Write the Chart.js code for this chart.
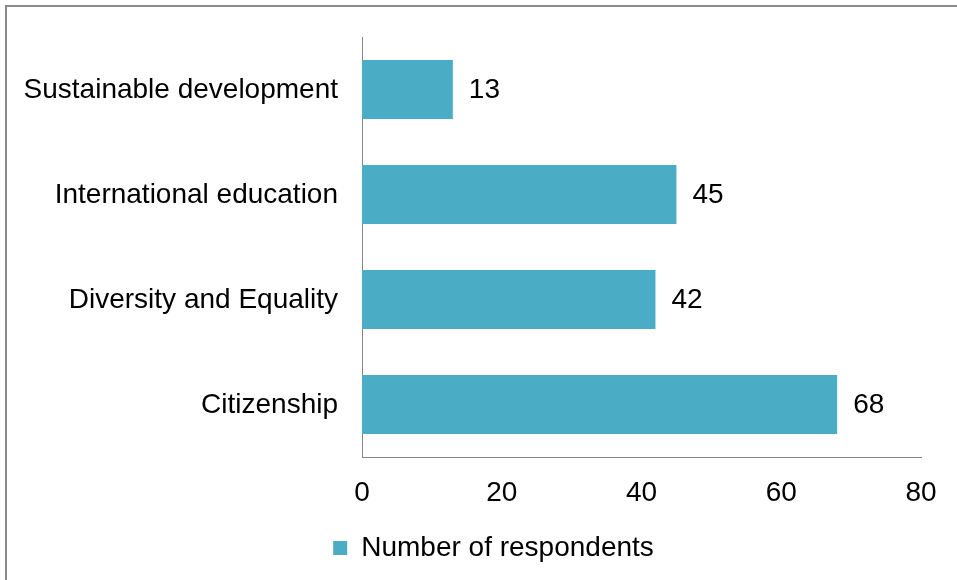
<!DOCTYPE html>
<html>
<head>
<meta charset="utf-8">
<script src="https://cdn.jsdelivr.net/npm/chart.js@4"></script>
<style>
    html, body { margin: 0; padding: 0; background: #fff; overflow: hidden; width: 957px; height: 580px; }
    #frame {
        position: absolute; left: 5px; top: 5px; width: 1000px; height: 1000px;
        border-left: 2px solid #8a8a8a; border-top: 2px solid #8a8a8a;
    }
    #wrap { position: absolute; left: 0; top: 0; width: 957px; height: 580px; }
</style>
</head>
<body>
<div id="frame"></div>
<div id="wrap"><canvas id="chart_themes"></canvas></div>
<script>
const categories = ['Sustainable development', 'International education', 'Diversity and Equality', 'Citizenship'];
const respondents = [13, 45, 42, 68];
const seriesName = 'Number of respondents';
const xTicks = [0, 20, 40, 60, 80];

const textFont = { family: "'Liberation Sans', Arial, sans-serif", size: 28 };

/* --- value written at the end of each bar --- */
const barValues = {
    id: 'barValues',
    afterDatasetsDraw(chart) {
        const ctx = chart.ctx;
        const meta = chart.getDatasetMeta(0);
        ctx.save();
        ctx.font = "28px 'Liberation Sans', Arial, sans-serif";
        ctx.fillStyle = '#000';
        ctx.textAlign = 'left';
        ctx.textBaseline = 'middle';
        meta.data.forEach((bar, i) => {
            ctx.fillText(String(respondents[i]), bar.x + 16, bar.y + 1);
        });
        ctx.restore();
    }
};

/* --- legend sits a bit right of the canvas centre --- */
const legendShift = {
    id: 'legendShift',
    afterLayout(chart) {
        chart.legend.left += 33;
        chart.legend.right += 33;
    }
};

new Chart(document.getElementById('chart_themes'), {
    type: 'bar',
    data: {
        labels: categories,
        datasets: [
            {
                label: seriesName,
                data: respondents,
                backgroundColor: '#4bacc6',
                barPercentage: 1,
                categoryPercentage: 0.56
            }
        ]
    },
    options: {
        indexAxis: 'y',
        responsive: true,
        maintainAspectRatio: false,
        animation: false,
        layout: { padding: { left: 0, right: 36, top: 37, bottom: 8 } },
        plugins: {
            legend: {
                position: 'bottom',
                labels: {
                    font: textFont,
                    color: '#000',
                    boxWidth: 14,
                    boxHeight: 14,
                    padding: 10
                }
            },
            tooltip: { enabled: false }
        },
        scales: {
            x: {
                min: 0,
                max: 80,
                afterBuildTicks: scale => { scale.ticks = xTicks.map(v => ({ value: v })); },
                afterFit: scale => { scale.height = 67; },
                grid: { display: false, drawTicks: false },
                border: { display: true, color: '#868686', width: 1 },
                ticks: { font: textFont, color: '#000', padding: 19 }
            },
            y: {
                afterFit: scale => {
                    scale.width = 362;
                    scale.paddingTop = 0;
                    scale.paddingBottom = 0;
                },
                grid: { display: false, drawTicks: false },
                border: { display: true, color: '#868686', width: 1 },
                ticks: { font: textFont, color: '#000', padding: 24, labelOffset: 1 }
            }
        }
    },
    plugins: [barValues, legendShift]
});
</script>
</body>
</html>
